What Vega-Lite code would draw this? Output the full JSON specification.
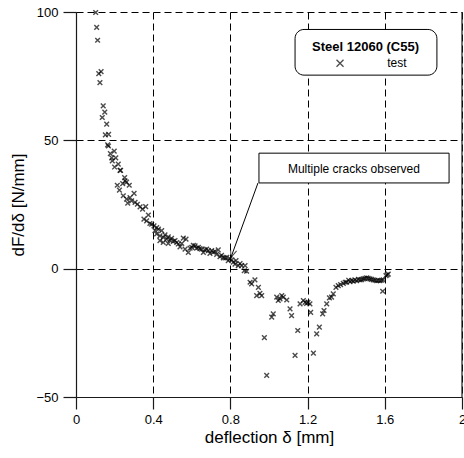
{
  "$schema": "https://vega.github.io/schema/vega-lite/v6.json",
  "width": 386,
  "height": 385,
  "autosize": {"type": "none"},
  "padding": {"left": 76, "top": 12, "right": 2, "bottom": 61},
  "config": {
    "font": "Liberation Sans",
    "view": {"stroke": null},
    "axis": {
      "gridColor": "black",
      "labelColor": "black",
      "titleColor": "black",
      "labelFontSize": 13,
      "titleFontSize": 17,
      "titleFontWeight": "normal",
      "labelFlush": false,
      "labelOverlap": false
    }
  },
  "encoding": {
    "x": {
      "field": "x", "type": "quantitative",
      "scale": {"domain": [0, 2], "nice": false, "zero": false},
      "axis": {
        "title": "deflection δ [mm]",
        "values": [0, 0.4, 0.8, 1.2, 1.6, 2.0],
        "format": ".1~f",
        "domainColor": "#1a1a1a",
        "domainWidth": 1.2,
        "tickColor": "#1a1a1a",
        "tickWidth": 1.2,
        "tickSize": 12,
        "labelPadding": 4,
        "titlePadding": 3,
        "grid": true,
        "gridDash": [7, 4]
      }
    },
    "y": {
      "field": "y", "type": "quantitative",
      "scale": {"domain": [-50, 100], "nice": false, "zero": false},
      "axis": {
        "title": "dF/dδ [N/mm]",
        "values": [-50, 0, 50, 100],
        "domainColor": "#1a1a1a",
        "domainWidth": 1.2,
        "tickColor": "#1a1a1a",
        "tickWidth": 1.2,
        "tickSize": 13,
        "labelPadding": 5,
        "titlePadding": 8,
        "grid": true,
        "gridDash": [7, 4]
      }
    }
  },
  "layer": [
    {
      "data": {"values": [
      {"x":0.102,"y":99.8},{"x":0.107,"y":94.0},{"x":0.112,"y":89.0},{"x":0.118,"y":76.0},{"x":0.130,"y":76.8},{"x":0.124,"y":72.5},
      {"x":0.141,"y":63.4},{"x":0.149,"y":61.0},{"x":0.136,"y":58.9},{"x":0.159,"y":56.3},{"x":0.152,"y":52.1},{"x":0.169,"y":52.3},
      {"x":0.164,"y":48.2},{"x":0.168,"y":47.8},{"x":0.178,"y":44.8},{"x":0.198,"y":45.8},{"x":0.185,"y":43.2},{"x":0.206,"y":43.2},{"x":0.188,"y":42.0},
      {"x":0.219,"y":40.7},{"x":0.200,"y":39.6},{"x":0.231,"y":38.3},{"x":0.228,"y":38.3},{"x":0.252,"y":35.5},{"x":0.262,"y":33.7},{"x":0.214,"y":32.5},
      {"x":0.242,"y":33.1},{"x":0.254,"y":34.2},{"x":0.276,"y":32.5},{"x":0.225,"y":30.6},{"x":0.301,"y":29.3},{"x":0.245,"y":28.4},
      {"x":0.262,"y":27.1},{"x":0.280,"y":27.7},{"x":0.288,"y":26.4},{"x":0.306,"y":25.8},{"x":0.318,"y":25.1},{"x":0.332,"y":24.1},
      {"x":0.345,"y":23.2},{"x":0.361,"y":24.2},{"x":0.268,"y":25.5},{"x":0.352,"y":19.3},{"x":0.366,"y":18.6},{"x":0.375,"y":20.9},
      {"x":0.383,"y":17.6},{"x":0.392,"y":17.3},{"x":0.404,"y":16.7},{"x":0.418,"y":16.0},
      {"x":0.409,"y":14.8},{"x":0.418,"y":13.5},{"x":0.427,"y":15.4},{"x":0.435,"y":12.8},{"x":0.444,"y":14.8},{"x":0.452,"y":12.2},
      {"x":0.461,"y":13.2},{"x":0.470,"y":11.5},{"x":0.478,"y":12.4},{"x":0.487,"y":11.1},{"x":0.495,"y":11.8},{"x":0.504,"y":10.6},
      {"x":0.435,"y":10.9},{"x":0.452,"y":10.2},{"x":0.478,"y":9.8},{"x":0.513,"y":10.9},{"x":0.522,"y":10.2},{"x":0.530,"y":9.6},
      {"x":0.548,"y":9.8},{"x":0.556,"y":11.9},{"x":0.570,"y":11.5},{"x":0.539,"y":8.5},{"x":0.565,"y":7.6},{"x":0.582,"y":6.3},
      {"x":0.591,"y":8.0},{"x":0.600,"y":8.3},{"x":0.608,"y":9.1},{"x":0.617,"y":8.9},{"x":0.625,"y":8.0},{"x":0.634,"y":8.3},
      {"x":0.642,"y":7.8},{"x":0.651,"y":7.6},{"x":0.660,"y":6.3},{"x":0.668,"y":7.3},{"x":0.677,"y":7.6},{"x":0.686,"y":7.0},
      {"x":0.694,"y":5.9},{"x":0.703,"y":7.0},{"x":0.711,"y":6.4},{"x":0.720,"y":6.7},{"x":0.729,"y":5.6},{"x":0.737,"y":7.3},
      {"x":0.746,"y":4.7},{"x":0.754,"y":5.2},{"x":0.763,"y":4.2},{"x":0.772,"y":4.2},{"x":0.781,"y":4.4},{"x":0.789,"y":3.1},
      {"x":0.798,"y":3.8},{"x":0.807,"y":3.4},{"x":0.815,"y":2.5},{"x":0.824,"y":1.8},{"x":0.829,"y":3.1},{"x":0.841,"y":1.2},
      {"x":0.850,"y":2.0},{"x":0.858,"y":1.2},{"x":0.876,"y":1.2},{"x":0.872,"y":-0.8},{"x":0.884,"y":-1.0},
      {"x":0.902,"y":-5.3},{"x":0.910,"y":-5.9},{"x":0.927,"y":-4.4},{"x":0.945,"y":-7.3},{"x":0.936,"y":-10.5},{"x":0.953,"y":-9.6},
      {"x":0.962,"y":-10.5},{"x":0.976,"y":-26.9},{"x":0.988,"y":-41.6},{"x":1.014,"y":-18.9},{"x":1.022,"y":-17.6},{"x":1.040,"y":-11.1},
      {"x":1.048,"y":-12.4},{"x":1.057,"y":-11.8},{"x":1.066,"y":-10.5},{"x":1.074,"y":-11.1},{"x":1.092,"y":-12.2},{"x":1.109,"y":-15.7},
      {"x":1.117,"y":-18.3},{"x":1.135,"y":-33.8},{"x":1.149,"y":-24.1},{"x":1.161,"y":-13.7},{"x":1.178,"y":-12.4},{"x":1.187,"y":-13.1},
      {"x":1.195,"y":-13.5},{"x":1.202,"y":-13.1},{"x":1.212,"y":-13.7},{"x":1.216,"y":-17.0},{"x":1.230,"y":-32.9},{"x":1.247,"y":-25.4},
      {"x":1.261,"y":-22.8},{"x":1.278,"y":-17.6},{"x":1.285,"y":-16.3},{"x":1.299,"y":-13.7},{"x":1.313,"y":-11.4},{"x":1.324,"y":-11.1},
      {"x":1.333,"y":-9.8},{"x":1.347,"y":-7.3},{"x":1.359,"y":-6.6},{"x":1.371,"y":-6.2},{"x":1.385,"y":-5.7},{"x":1.395,"y":-5.3},
      {"x":1.402,"y":-5.3},{"x":1.413,"y":-4.5},{"x":1.420,"y":-5.1},{"x":1.428,"y":-4.6},{"x":1.437,"y":-4.9},{"x":1.445,"y":-4.4},
      {"x":1.454,"y":-4.7},{"x":1.463,"y":-4.2},{"x":1.472,"y":-4.4},{"x":1.480,"y":-4.3},{"x":1.489,"y":-4.0},{"x":1.497,"y":-3.8},
      {"x":1.506,"y":-3.6},{"x":1.514,"y":-3.8},{"x":1.523,"y":-4.0},{"x":1.531,"y":-4.2},{"x":1.540,"y":-4.4},{"x":1.549,"y":-4.5},
      {"x":1.558,"y":-4.7},{"x":1.566,"y":-4.6},{"x":1.575,"y":-4.7},{"x":1.583,"y":-4.5},{"x":1.592,"y":-4.4},{"x":1.589,"y":-8.8},
      {"x":1.606,"y":-2.7},{"x":1.612,"y":-2.4},{"x":1.618,"y":-2.1}
      ]},
      "mark": {"type": "point", "shape": "M-1,-1L1,1M-1,1L1,-1", "filled": false, "stroke": "black", "strokeWidth": 1.4, "size": 22}
    },
    {
      "data": {"values": [{"x": 2, "y": -50, "y2": 100}]},
      "mark": {"type": "rule", "stroke": "#1a1a1a", "strokeWidth": 1.2},
      "encoding": {"y2": {"field": "y2"}}
    },
    {
      "data": {"values": [{"x": 1.135, "x2": 1.87, "y": 93.2, "y2": 75.4}]},
      "mark": {"type": "rect", "fill": "white", "stroke": "black", "strokeWidth": 1, "cornerRadius": 9},
      "encoding": {"x2": {"field": "x2"}, "y2": {"field": "y2"}}
    },
    {
      "data": {"values": [{"x": 0.948, "x2": 1.933, "y": 45.0, "y2": 33.4}]},
      "mark": {"type": "rect", "fill": "white", "stroke": "black", "strokeWidth": 1},
      "encoding": {"x2": {"field": "x2"}, "y2": {"field": "y2"}}
    },
    {
      "data": {"values": [{"x": 0.943, "x2": 0.803, "y": 33.4, "y2": 4.4}]},
      "mark": {"type": "rule", "stroke": "black", "strokeWidth": 1},
      "encoding": {"x2": {"field": "x2"}, "y2": {"field": "y2"}}
    },
    {
      "data": {"values": [{"x": 0.803, "y": 4.4}]},
      "mark": {"type": "point", "shape": "M-0.4,1L0,0L0.4,1", "filled": false, "stroke": "black", "strokeWidth": 1, "size": 256, "angle": 199}
    },
    {
      "data": {"values": [{"x": 1.44, "y": 38.9, "t": "Multiple cracks observed"}]},
      "mark": {"type": "text", "fontSize": 12, "color": "black", "align": "center", "baseline": "middle"},
      "encoding": {"text": {"field": "t"}}
    },
    {
      "data": {"values": [{"x": 1.5, "y": 86.2, "t": "Steel 12060 (C55)"}]},
      "mark": {"type": "text", "fontSize": 13, "fontWeight": "bold", "color": "black", "align": "center", "baseline": "middle"},
      "encoding": {"text": {"field": "t"}}
    },
    {
      "data": {"values": [{"x": 1.663, "y": 80.0, "t": "test"}]},
      "mark": {"type": "text", "fontSize": 12, "color": "black", "align": "center", "baseline": "middle"},
      "encoding": {"text": {"field": "t"}}
    },
    {
      "data": {"values": [{"x": 1.368, "y": 80.0}]},
      "mark": {"type": "point", "shape": "M-1,-1L1,1M-1,1L1,-1", "filled": false, "stroke": "black", "strokeWidth": 1.3, "size": 49}
    }
  ]
}
